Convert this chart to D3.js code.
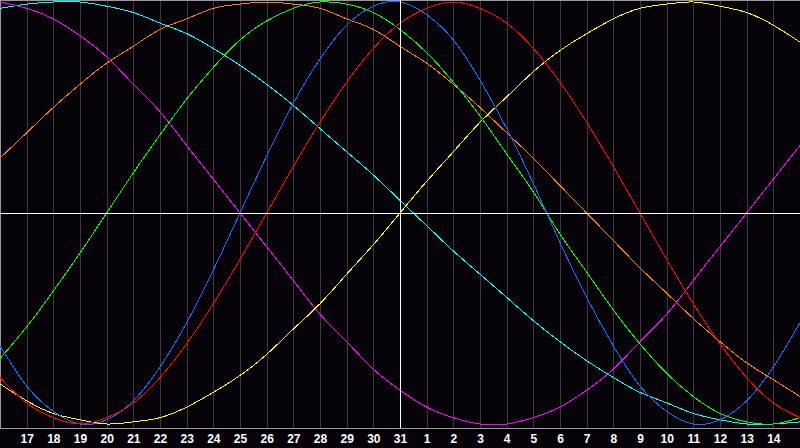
<!DOCTYPE html>
<html>
<head>
<meta charset="utf-8">
<script src="https://cdn.jsdelivr.net/npm/d3@7"></script>
<style>
  html, body { margin: 0; padding: 0; background: #050308; }
  svg { display: block; }
</style>
</head>
<body>
<div id="chart"></div>
<script>
// day labels, index 0 = 16th (not labelled) ... index 30 = 15th (not labelled)
var days = [16,17,18,19,20,21,22,23,24,25,26,27,28,29,30,31,1,2,3,4,5,6,7,8,9,10,11,12,13,14,15];
var todayIndex = 15;

// one value per day, -1 .. 1
var physical     = [-0.63,-0.82,-0.94,-1.00,-0.98,-0.89,-0.73,-0.52,-0.27,0.00,0.27,0.52,0.73,0.89,0.98,1.00,0.94,0.82,0.63,0.40,0.14,-0.14,-0.40,-0.63,-0.82,-0.94,-1.00,-0.98,-0.89,-0.73,-0.52];
var emotional    = [-0.78,-0.90,-0.97,-1.00,-0.97,-0.90,-0.78,-0.62,-0.43,-0.22,0.00,0.22,0.43,0.62,0.78,0.90,0.97,1.00,0.97,0.90,0.78,0.62,0.43,0.22,0.00,-0.22,-0.43,-0.62,-0.78,-0.90,-0.97];
var intellectual = [-0.69,-0.54,-0.37,-0.19,0.00,0.19,0.37,0.54,0.69,0.82,0.91,0.97,1.00,0.99,0.95,0.87,0.76,0.62,0.46,0.28,0.10,-0.10,-0.28,-0.46,-0.62,-0.76,-0.87,-0.95,-0.99,-1.00,-0.97];
var intuitive    = [1.00,0.97,0.92,0.84,0.74,0.61,0.48,0.32,0.16,0.00,-0.16,-0.32,-0.48,-0.61,-0.74,-0.84,-0.92,-0.97,-1.00,-1.00,-0.97,-0.92,-0.84,-0.74,-0.61,-0.48,-0.32,-0.16,0.00,0.16,0.32];
var aesthetic    = [-0.81,-0.89,-0.95,-0.98,-1.00,-0.99,-0.97,-0.92,-0.85,-0.77,-0.67,-0.55,-0.43,-0.29,-0.15,0.00,0.15,0.29,0.43,0.55,0.67,0.77,0.85,0.92,0.97,0.99,1.00,0.98,0.95,0.89,0.81];
var awareness    = [0.26,0.38,0.50,0.61,0.71,0.79,0.87,0.92,0.97,0.99,1.00,0.99,0.97,0.92,0.87,0.79,0.71,0.61,0.50,0.38,0.26,0.13,0.00,-0.13,-0.26,-0.38,-0.50,-0.61,-0.71,-0.79,-0.87];
var spiritual    = [0.97,0.99,1.00,1.00,0.98,0.95,0.90,0.85,0.78,0.70,0.61,0.51,0.40,0.29,0.18,0.06,-0.06,-0.18,-0.29,-0.40,-0.51,-0.61,-0.70,-0.78,-0.85,-0.90,-0.95,-0.98,-1.00,-1.00,-0.99];

var series = [
    {name: "spiritual",    values: spiritual,    color: "#00ffff"},
    {name: "awareness",    values: awareness,    color: "#ff8000"},
    {name: "intuitive",    values: intuitive,    color: "#ff00ff"},
    {name: "aesthetic",    values: aesthetic,    color: "#ffff00"},
    {name: "intellectual", values: intellectual, color: "#00ff00"},
    {name: "physical",     values: physical,     color: "#1a6cff"},
    {name: "emotional",    values: emotional,    color: "#ff0000"}
];

var width = 800, height = 448, plotBottom = 428;

var x = d3.scaleLinear().domain([0, days.length - 1]).range([0, width]);
var y = d3.scaleLinear().domain([-1, 1]).range([424, 2]);

var svg = d3.select("#chart").append("svg")
    .attr("width", width)
    .attr("height", height);

svg.append("rect")
    .attr("width", width).attr("height", height)
    .attr("fill", "#050308");

// day grid
svg.append("g").selectAll("line")
    .data(days.slice(1, -1))
    .enter().append("line")
    .attr("x1", function(d, i){ return Math.round(x(i + 1)) + 0.5; })
    .attr("x2", function(d, i){ return Math.round(x(i + 1)) + 0.5; })
    .attr("y1", 0)
    .attr("y2", plotBottom)
    .attr("stroke", "#3a3a3a")
    .attr("shape-rendering", "crispEdges");

// frame
svg.append("path")
    .attr("d", "M0.5," + (plotBottom + 0.5) + "V0.5H" + (width - 0.5) + "M0," + (plotBottom + 0.5) + "H" + width)
    .attr("fill", "none")
    .attr("stroke", "#9a9a9a")
    .attr("shape-rendering", "crispEdges");

var line = d3.line()
    .x(function(d, i){ return x(i); })
    .y(function(d){ return y(d); })
    .curve(d3.curveNatural);

svg.append("g")
    .attr("clip-path", "inset(0)")
    .selectAll("path")
    .data(series)
    .enter().append("path")
    .attr("d", function(d){ return line(d.values); })
    .attr("fill", "none")
    .attr("stroke", function(d){ return d.color; })
    .attr("stroke-width", 1)
    .attr("shape-rendering", "crispEdges");

// zero line and today marker
svg.append("line")
    .attr("x1", 0).attr("x2", width)
    .attr("y1", Math.round(y(0)) + 0.5).attr("y2", Math.round(y(0)) + 0.5)
    .attr("stroke", "#ffffff")
    .attr("shape-rendering", "crispEdges");

svg.append("line")
    .attr("x1", Math.round(x(todayIndex)) + 0.5).attr("x2", Math.round(x(todayIndex)) + 0.5)
    .attr("y1", 0).attr("y2", plotBottom)
    .attr("stroke", "#ffffff")
    .attr("shape-rendering", "crispEdges");

// day labels
svg.append("g").selectAll("text")
    .data(days.slice(1, -1))
    .enter().append("text")
    .attr("x", function(d, i){ return x(i + 1) + 0.5; })
    .attr("y", 443)
    .attr("text-anchor", "middle")
    .attr("fill", "#ffffff")
    .style("font-family", "'Liberation Sans', Arial, sans-serif")
    .style("font-weight", "bold")
    .style("font-size", "12px")
    .text(function(d){ return d; });
</script>
</body>
</html>
